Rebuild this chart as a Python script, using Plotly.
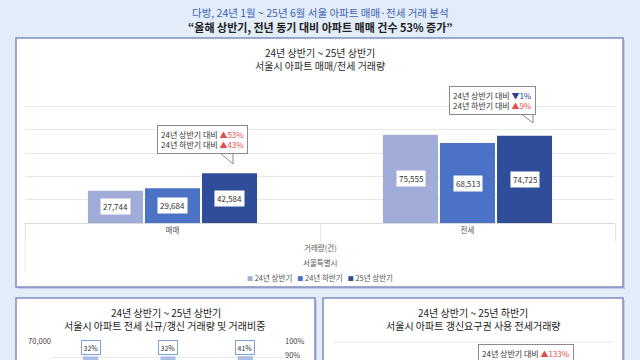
import plotly.graph_objects as go

# ---------------- data ----------------
categories = ["매매", "전세"]
series_names = ["24년 상반기", "24년 하반기", "25년 상반기"]
h1_2024 = [27744, 75555]
h2_2024 = [29684, 68513]
h1_2025 = [42584, 74725]

sale_change = ["▲53%", "▲43%"]      # 매매: vs 24H1, vs 24H2
jeonse_change = ["▼1%", "▲9%"]      # 전세: vs 24H1, vs 24H2

bottom_periods = ["24년 상반기", "24년 하반기", "25년 상반기"]
bottom_totals = [60500, 60400, 60600]  # only tops visible
renewal_share_values = [32, 32, 41]
renewal_share = ["32%", "32%", "41%"]
left_ticks = [60000, 70000]
right_ticks = [90, 100]
renewal_right_change = "▲133%"

W, H = 640, 360
FONT = "Noto Sans CJK KR"
BG = "#e3edf9"
BORDER = "#7f8dbd"
colors = ["#a2acd9", "#4b72c4", "#2f4d99"]


def px(x):
    return x / W


def py(y):
    return 1 - y / H


fig = go.Figure()

all_series = [h1_2024, h2_2024, h1_2025]
for name, vals, col in zip(series_names, all_series, colors):
    fig.add_trace(go.Bar(
        x=categories, y=vals, name=name, marker=dict(color=col, line=dict(width=0)),
        xaxis="x", yaxis="y", hoverinfo="skip", showlegend=False,
    ))

# bottom-left chart (only the top is visible)
fig.add_trace(go.Bar(
    x=bottom_periods, y=bottom_totals, width=0.2, marker=dict(color="#a9bfe8"),
    xaxis="x2", yaxis="y2", showlegend=False, hoverinfo="skip",
))
fig.add_trace(go.Scatter(
    x=bottom_periods, y=renewal_share_values, mode="lines+markers",
    line=dict(color="#2f4d99"), xaxis="x2", yaxis="y3", showlegend=False, hoverinfo="skip",
))

shapes = []
annotations = []


def panel(x0, y0, x1, y1):
    shapes.append(dict(type="rect", xref="paper", yref="paper",
                       x0=px(x0 + 2), x1=px(x1 + 2), y0=py(y1 + 2), y1=py(y0 + 2),
                       fillcolor="#c3cde6", line=dict(width=0), layer="below"))
    shapes.append(dict(type="rect", xref="paper", yref="paper",
                       x0=px(x0), x1=px(x1), y0=py(y1), y1=py(y0),
                       fillcolor="white", line=dict(color=BORDER, width=1.5), layer="below"))


panel(16, 38, 623, 287)
panel(16, 298, 315, 372)
panel(323, 298, 623, 372)

# faint table-like frame under main chart
shapes.append(dict(type="line", xref="paper", yref="paper", x0=px(25), x1=px(25),
                   y0=py(272), y1=py(223), line=dict(color="#eeeeee", width=1), layer="below"))

# right bottom panel gridline
shapes.append(dict(type="line", xref="paper", yref="paper", x0=px(333), x1=px(613),
                   y0=py(342), y1=py(342), line=dict(color="#e6e6e6", width=1), layer="below"))


def note(x, y, text, size, color="#333333", **kw):
    d = dict(xref="paper", yref="paper", x=x, y=y, showarrow=False, text=text,
             xanchor="center", yanchor="middle",
             font=dict(family=FONT, size=size, color=color))
    d.update(kw)
    annotations.append(d)


# titles
note(0.5, py(13), "다방, 24년 1월 ~ 25년 6월 서울 아파트 매매·전세 거래 분석", 10.5, "#3c5fb3")
note(0.5, py(27), "<b>“올해 상반기, 전년 동기 대비 아파트 매매 건수 53% 증가”</b>", 11, "#222222")
note(0.5, py(52.5), "24년 상반기 ~ 25년 상반기", 10, "#2a2a2a")
note(0.5, py(65.5), "서울시 아파트 매매/전세 거래량", 10, "#2a2a2a")
note(px(166), py(312), "24년 상반기 ~ 25년 상반기", 10, "#222222")
note(px(164), py(325), "서울시 아파트 전세 신규/갱신 거래량 및 거래비중", 10, "#222222")
note(px(473), py(312), "24년 상반기 ~ 25년 하반기", 10, "#222222")
note(px(473), py(325), "서울시 아파트 갱신요구권 사용 전세거래량", 10, "#222222")

# axis title + region label
note(0.5, py(247), "거래량(건)", 7.5, "#555555")
note(0.5, py(262), "서울특별시", 7.5, "#555555")

# legend built from series names / colours
legend_text = "   ".join(
    f"<span style='color:{c};font-size:6px'>■</span> {n}" for n, c in zip(series_names, colors))
note(0.5, py(277), legend_text, 7.5, "#555555")

# value labels inside bars
for i, vals in enumerate(all_series):
    for c, v in zip(categories, vals):
        annotations.append(dict(xref="x", yref="y", x=c, y=v / 2, xshift=(i - 1) * 57,
                                showarrow=False, text=f"{v:,}", bgcolor="white", borderpad=2,
                                yanchor="middle",
                                font=dict(family=FONT, size=8, color="#333333")))

RED = "#e0504c"
NAVY = "#2b3f90"


def chg(s):
    return f"<span style='color:{RED if s.startswith('▲') else NAVY}'>{s}</span>"


# callouts
def callout(cx, cy, lines, tail):
    shapes.append(dict(type="path", xref="paper", yref="paper",
                       path=f"M {px(tail[0])},{py(tail[1])} L {px(tail[2])},{py(tail[3])} L {px(tail[2])},{py(tail[1])} Z",
                       fillcolor="white", line=dict(color="#8a8a8a", width=1), layer="above"))
    note(px(cx), py(cy), "<br>".join(lines), 8, align="left", bgcolor="white",
         bordercolor="#8a8a8a", borderwidth=1, borderpad=3)


callout(202.5, 140, [f"24년 상반기 대비 {chg(sale_change[0])}", f"24년 하반기 대비 {chg(sale_change[1])}"],
        (219, 152, 233, 164))
callout(492.5, 100, [f"24년 상반기 대비 {chg(jeonse_change[0])}", f"24년 하반기 대비 {chg(jeonse_change[1])}"],
        (519, 112, 533, 123))

# bottom-left share labels
for p, s, v in zip(bottom_periods, renewal_share, bottom_totals):
    annotations.append(dict(xref="x2", yref="y2", x=p, y=v, yanchor="bottom", yshift=1,
                            showarrow=False, text=s, bgcolor="white", bordercolor="#7fa0d8",
                            borderwidth=1, borderpad=1.5,
                            font=dict(family=FONT, size=7, color="#333333")))

# bottom-right callout
note(px(526), py(353), f"24년 상반기 대비 {chg(renewal_right_change)}", 8, bgcolor="white",
     bordercolor="#8a8a8a", borderwidth=1, borderpad=3)

fig.update_layout(
    width=W, height=H, margin=dict(l=0, r=0, t=0, b=0, autoexpand=False),
    paper_bgcolor=BG, plot_bgcolor="rgba(0,0,0,0)",
    font=dict(family=FONT, size=8, color="#444444"),
    barmode="group", bargap=0.42, bargroupgap=0.035,
    showlegend=False,
    xaxis=dict(domain=[px(25), px(615)], showgrid=False, ticks="outside", tickson="boundaries",
               ticklen=17, tickcolor="#e3e3e3", showline=True, linecolor="#d9d9d9",
               tickfont=dict(size=7.5, color="#555555"), fixedrange=True),
    yaxis=dict(domain=[py(223), py(83)], range=[0, 120000], dtick=20000, showticklabels=False,
               gridcolor="#e8e8e8", zeroline=False, fixedrange=True),
    xaxis2=dict(domain=[px(52), px(284)], anchor="y2", showticklabels=False, showgrid=False,
                fixedrange=True),
    yaxis2=dict(domain=[0, py(341)], range=[58125, 70000], tickvals=left_ticks,
                ticktext=[f"{v:,}" for v in left_ticks], anchor="x2", gridcolor="#e8e8e8",
                zeroline=False, tickfont=dict(size=7.5, color="#444444"), fixedrange=True),
    yaxis3=dict(overlaying="y2", side="right", anchor="x2", range=[86.4, 100],
                tickvals=right_ticks, ticktext=[f"{v}%" for v in right_ticks],
                showgrid=False, zeroline=False,
                tickfont=dict(size=7.5, color="#444444"), fixedrange=True),
    shapes=shapes, annotations=annotations,
)

fig.write_html("out.html", config={"displayModeBar": False},
               post_script="document.body.style.margin='0';document.body.style.overflow='hidden';")
